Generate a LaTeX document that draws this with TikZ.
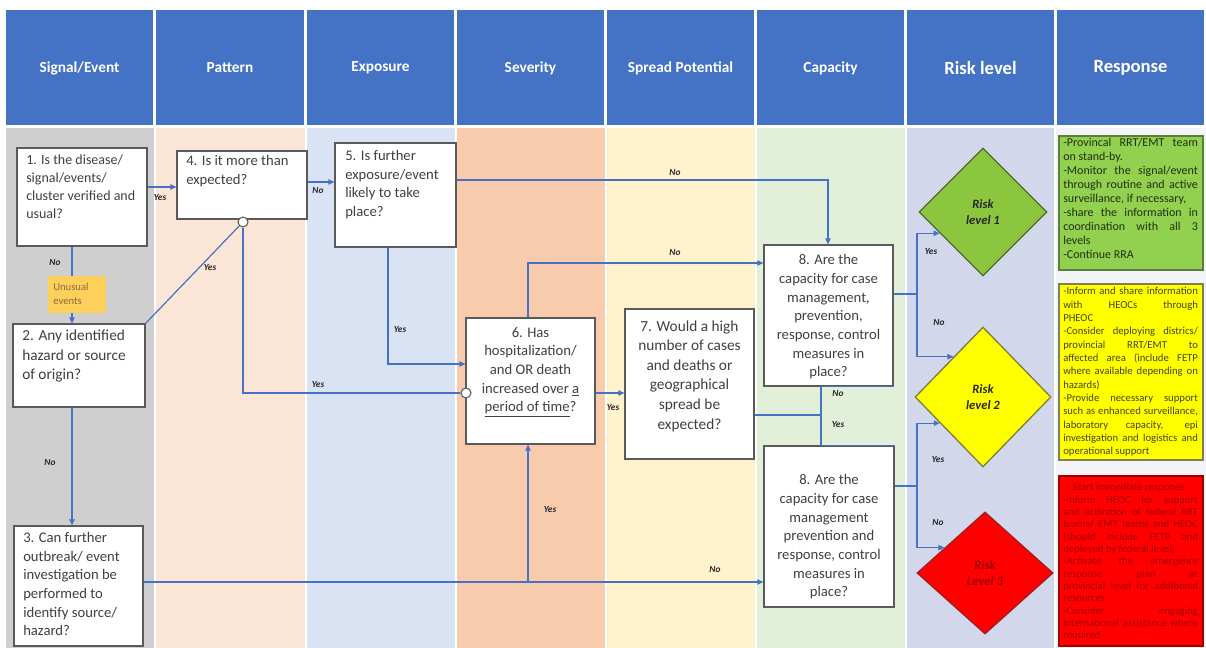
\documentclass[tikz,border=0pt]{standalone}
\usepackage{fontspec}
\setmainfont{Carlito}
\usetikzlibrary{shapes.geometric,calc,fit,arrows.meta}

\definecolor{hdrblue}{HTML}{4472C4}
\definecolor{laneGray}{HTML}{CFCFCF}
\definecolor{lanePeach}{HTML}{FBE5D6}
\definecolor{laneBlue}{HTML}{DAE3F3}
\definecolor{laneOrange}{HTML}{F8CBAD}
\definecolor{laneYellow}{HTML}{FFF2CC}
\definecolor{laneGreen}{HTML}{E2F0D9}
\definecolor{laneLav}{HTML}{D2D7EC}
\definecolor{laneResp}{HTML}{F3F4F8}
\definecolor{linkblue}{HTML}{4472C4}
\definecolor{boxline}{HTML}{5A5A5A}
\definecolor{boxtext}{HTML}{404040}
\definecolor{lbltext}{HTML}{262626}
\definecolor{unfill}{HTML}{FCD05A}
\definecolor{untext}{HTML}{8A6D3B}
\definecolor{rlAfill}{HTML}{8CC63E}
\definecolor{rlAline}{HTML}{4D6B2E}
\definecolor{rlBfill}{HTML}{FFFF00}
\definecolor{rlBline}{HTML}{7F7F3A}
\definecolor{rlCfill}{HTML}{FF0000}
\definecolor{rlCline}{HTML}{A02020}
\definecolor{rlCtext}{HTML}{9A0000}
\definecolor{rgfill}{HTML}{92D050}
\definecolor{rgline}{HTML}{5B7F3A}
\definecolor{rgtext}{HTML}{22300F}
\definecolor{ryfill}{HTML}{FFFF00}
\definecolor{ryline}{HTML}{7F7F5A}
\definecolor{rytext}{HTML}{44441A}
\definecolor{rrfill}{HTML}{FF0000}
\definecolor{rrline}{HTML}{A00000}
\definecolor{rrtext}{HTML}{A80000}

\begin{document}
\begin{tikzpicture}[x=0.75pt, y=-0.75pt,
  hdrlabel/.style={text=white, inner sep=0, font=\bfseries\fontsize{11.5}{13}\selectfont},
  hdrbig/.style={text=white, inner sep=0, font=\bfseries\fontsize{14}{16}\selectfont},
  qbox/.style={draw=boxline, fill=white, line width=0.9pt, inner sep=0},
  qtext/.style={text=boxtext, align=left, inner sep=0, anchor=north west, font=\fontsize{11}{14}\selectfont},
  ctext/.style={text=boxtext, align=center, inner sep=0, font=\fontsize{11}{14}\selectfont},
  conn/.style={draw=linkblue, line width=0.9pt},
  arr/.style={-{Triangle[length=4.5pt,width=4pt]}},
  lbl/.style={text=lbltext, inner sep=0, font=\bfseries\itshape\fontsize{7}{8}\selectfont},
  knot/.style={circle, draw=boxline, fill=white, line width=0.8pt, minimum size=7.5pt, inner sep=0},
  risk/.style={diamond, line width=1pt, inner sep=0, align=center, font=\bfseries\itshape\fontsize{9.5}{12.5}\selectfont},
  resp/.style={line width=1pt, inner sep=0},
  resptext/.style={align=justify, inner sep=0, anchor=north west, text width=101pt,
    execute at begin node={\setlength{\parindent}{0pt}\hyphenpenalty=10000\exhyphenpenalty=10000}}
]
\useasboundingbox (0,0) rectangle (1206,648);
\fill[white] (0,0) rectangle (1206,648);

% column headers
\fill[hdrblue] (6,10) rectangle (153,125);
\fill[hdrblue] (156,10) rectangle (304,125);
\fill[hdrblue] (307,10) rectangle (454,125);
\fill[hdrblue] (457,10) rectangle (604,125);
\fill[hdrblue] (607,10) rectangle (754,125);
\fill[hdrblue] (757,10) rectangle (904,125);
\fill[hdrblue] (907,10) rectangle (1054,125);
\fill[hdrblue] (1057,10) rectangle (1204,125);
\node[hdrlabel] (h1) at (79.5,68) {Signal/Event};
\node[hdrlabel] (h2) at (230,68) {Pattern};
\node[hdrlabel] (h3) at (380.5,68) {Exposure};
\node[hdrlabel] (h4) at (530.5,68) {Severity};
\node[hdrlabel] (h5) at (680.5,68) {Spread Potential};
\node[hdrlabel] (h6) at (830.5,68) {Capacity};
\node[hdrbig] (h7) at (980.5,68) {Risk level};
\node[hdrbig] (h8) at (1130.5,68) {Response};

% swim lanes
\fill[laneGray] (6,128) rectangle (154,648);
\fill[lanePeach] (156,128) rectangle (305,648);
\fill[laneBlue] (307,128) rectangle (455,648);
\fill[laneOrange] (457,128) rectangle (605,648);
\fill[laneYellow] (607,128) rectangle (755,648);
\fill[laneGreen] (757,128) rectangle (905,648);
\fill[laneLav] (907,128) rectangle (1054,648);
\fill[laneResp] (1056,128) rectangle (1206,648);

% question boxes
\node[qbox, fit={(17,148) (147,246)}] (b1) {};
\node[qbox, fit={(177,151) (307,219)}] (b4) {};
\node[qbox, fit={(335,143) (456,247)}] (b5) {};
\node[qbox, fit={(13,324) (145,407)}] (b2) {};
\node[qbox, fit={(14,526) (143,646)}] (b3) {};
\node[qbox, fit={(466,318) (595,444)}] (b6) {};
\node[qbox, fit={(625,309) (754,459)}] (b7) {};
\node[qbox, fit={(764,245) (893,386)}] (b8a) {};
\node[qbox, fit={(764,446) (894,607)}] (b8b) {};
\node[fill=unfill, inner sep=0, fit={(48,276) (106,313)}] (un) {};

\node[qtext, font=\fontsize{10.5}{13.3}\selectfont] (t1) at (26,155) {1. Is the disease/\\signal/events/\\cluster verified and\\usual?};
\node[qtext] (t4) at (186,155) {4. Is it more than\\expected?};
\node[qtext] (t5) at (345,150) {5. Is further\\exposure/event\\likely to take\\place?};
\node[qtext, font=\fontsize{11.5}{14.5}\selectfont] (t2) at (22,330) {2. Any identified\\hazard or source\\of origin?};
\node[qtext] (t3) at (23,532) {3. Can further\\outbreak/ event\\investigation be\\performed to\\identify source/\\hazard?};
\node[ctext] (t6) at (530.5,372) {6. Has\\hospitalization/\\and OR death\\increased over \underline{a}\\\underline{period of time}?};
\node[ctext, font=\fontsize{11.5}{14.7}\selectfont] (t7) at (689.5,376) {7. Would a high\\number of cases\\and deaths or\\geographical\\spread be\\expected?};
\node[ctext] (t8a) at (828.5,317) {8. Are the\\capacity for case\\management,\\prevention,\\response, control\\measures in\\place?};
\node[ctext] (t8b) at (829,537) {8. Are the\\capacity for case\\management\\prevention and\\response, control\\measures in\\place?};
\node[text=untext, align=left, anchor=north west, inner sep=0, font=\fontsize{8}{10}\selectfont] (unt) at (53,283) {Unusual\\events};

% junction circles
\node[knot] (c4) at (243,222) {};
\node[knot] (c6) at (466,393) {};

% risk levels
\node[risk, draw=rlAline, fill=rlAfill, text=lbltext, minimum width=96pt, minimum height=96pt] (rl1) at (983,212) {Risk\\level 1};
\node[risk, draw=rlBline, fill=rlBfill, text=lbltext, minimum width=102pt, minimum height=105pt] (rl2) at (983,397) {Risk\\level 2};
\node[risk, draw=rlCline, fill=rlCfill, text=rlCtext, minimum width=102pt, minimum height=91.5pt] (rl3) at (985,573) {Risk\\Level 3};

% responses
\node[resp, draw=rgline, fill=rgfill, fit={(1059,136) (1203,270)}] (rg) {};
\node[resp, draw=ryline, fill=ryfill, fit={(1059,284) (1203,460)}] (ry) {};
\node[resp, draw=rrline, fill=rrfill, fit={(1059,476) (1203,646)}] (rr) {};
\node[resptext, text=rgtext, font=\fontsize{9}{10.5}\selectfont] (rgt) at (1063,138) {-Provincal RRT/EMT team\linebreak on stand-by.\par -Monitor the signal/event\linebreak through routine and active\linebreak surveillance, if necessary,\par -share the information in\linebreak coordination with all 3\linebreak levels\par -Continue RRA};
\node[resptext, text=rytext, font=\fontsize{8}{10}\selectfont] (ryt) at (1063,287) {-Inform and share information\linebreak with HEOCs through\linebreak PHEOC\par -Consider deploying districs/\linebreak provincial RRT/EMT to\linebreak affected area (include FETP\linebreak where available depending on\linebreak hazards)\par -Provide necessary support\linebreak such as enhanced surveillance,\linebreak laboratory capacity, epi\linebreak investigation and logistics and\linebreak operational support};
\node[resptext, text=rrtext, font=\fontsize{8}{9.25}\selectfont] (rrt) at (1063,483) {\hspace*{3pt}- Start immediate response\par -Inform HEOC for support\linebreak and activation of federal RRT\linebreak teams/ EMT teams and HEOC\linebreak (should include FETP and\linebreak deployed by federal level)\par -Activate the emergency\linebreak response plan at\linebreak provincial level for additional\linebreak resources\par -Consider engaging\linebreak international assistance where\linebreak required};

% connectors
\coordinate (k1) at (160,187);
\draw[conn,arr] (b1.east |- k1) -- (b4.west |- k1);
\coordinate (k2) at (320,182);
\draw[conn,arr] (b4.east |- k2) -- (b5.west |- k2);
\coordinate (k3) at (72,260);
\draw[conn] (b1.south -| k3) -- (un.north -| k3);
\draw[conn,arr] (un.south -| k3) -- (b2.north -| k3);
\draw[conn] (b2.north east) -- (c4);
\draw[conn] (c4) |- (c6);
\draw[conn,arr] (b2.south -| k3) -- (b3.north -| k3);
\coordinate (k7) at (528,582);
\draw[conn,arr] (b3.east |- k7) -- (b8b.west |- k7);
\draw[conn,arr] (k7) -- (b6.south -| k7);
\coordinate (k9) at (828,180);
\draw[conn,arr] (b5.east |- k9) -- (k9) -- (b8a.north -| k9);
\coordinate (k10) at (388,364);
\draw[conn,arr] (b5.south -| k10) -- (k10) -- (b6.west |- k10);
\coordinate (k11) at (528,263);
\draw[conn,arr] (b6.north -| k11) -- (k11) -- (b8a.west |- k11);
\coordinate (k12) at (610,393);
\draw[conn,arr] (b6.east |- k12) -- (b7.west |- k12);
\coordinate (k13) at (821,415);
\draw[conn] (b7.east |- k13) -- (k13);
\draw[conn] (k13) -- (b8a.south -| k13) -- (b8a.south east);
\draw[conn] (k13) -- (b8b.north -| k13) -- (b8b.north east);
\coordinate (k14) at (917,294);
\draw[conn] (b8a.east |- k14) -- (k14);
\draw[conn,arr] (k14) |- ($(rl1.west)!0.33!(rl1.south)$);
\draw[conn,arr] (k14) |- ($(rl2.west)!0.57!(rl2.north)$);
\coordinate (k15) at (917,486);
\draw[conn] (b8b.east |- k15) -- (k15);
\draw[conn,arr] (k15) |- ($(rl2.west)!0.37!(rl2.south)$);
\draw[conn,arr] (k15) |- ($(rl3.west)!0.41!(rl3.north)$);

% branch labels
\node[lbl] (y1) at (160,198) {Yes};
\node[lbl] (n2) at (318,191) {No};
\node[lbl] (n3) at (55,263) {No};
\node[lbl] (y4) at (210,268) {Yes};
\node[lbl] (y5) at (318,385) {Yes};
\node[lbl] (n6) at (50,463) {No};
\node[lbl] (n7) at (715,570) {No};
\node[lbl] (y8) at (550,510) {Yes};
\node[lbl] (n9) at (675,173) {No};
\node[lbl] (y10) at (400,330) {Yes};
\node[lbl] (n11) at (675,253) {No};
\node[lbl] (y12) at (613,408) {Yes};
\node[lbl] (n13) at (838,394) {No};
\node[lbl] (y13) at (838,425) {Yes};
\node[lbl] (y14) at (931,252) {Yes};
\node[lbl] (n14) at (939,323) {No};
\node[lbl] (y15) at (938,460) {Yes};
\node[lbl] (n15) at (938,523) {No};
\end{tikzpicture}
\end{document}
